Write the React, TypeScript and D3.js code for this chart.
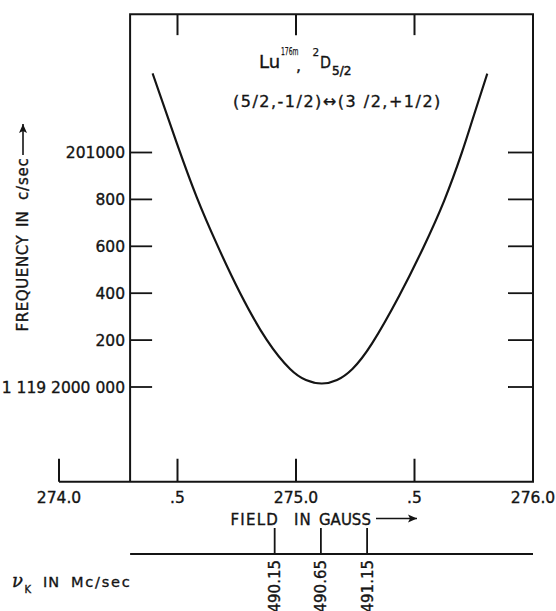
import React from "react";
import * as d3 from "d3";

const fieldTicks = [274.0, 274.5, 275.0, 275.5, 276.0];
const fieldTickLabels = ["274.0", ".5", "275.0", ".5", "276.0"];
const freqTicks = [0, 200, 400, 600, 800, 1000];
const freqTickLabels = ["1 119 2000 000", "200", "400", "600", "800", "201000"];
const nuTicks = [490.15, 490.65, 491.15];
const nuTickLabels = ["490.15", "490.65", "491.15"];

const curveField = [274.395, 274.497, 274.581, 274.667, 274.764, 274.876, 274.975, 275.042, 275.108, 275.173, 275.238, 275.321, 275.435, 275.536, 275.625, 275.699, 275.751, 275.807];
const curveFreq = [1337, 1040, 810, 607, 401, 202, 77, 30, 15, 30, 77, 186, 388, 592, 794, 997, 1160, 1336];

const W = 556;
const H = 611;
const INK = "#141414";
const FONT = "'DejaVu Sans', Verdana, sans-serif";

export default function App() {
  const x = d3.scaleLinear().domain([274, 276]).range([59, 533]);
  const y = d3.scaleLinear().domain([0, 1000]).range([387, 152.5]);
  const nuToField = d3.scaleLinear().domain([490.15, 491.15]).range([274.91, 275.3]);

  const left = x(274.3);
  const right = x(276);
  const top = y(1590);
  const bottom = y(-404);
  const nuY = 554;

  const pts = curveField.map((f, i) => [f, curveFreq[i]] as [number, number]);
  const line = d3
    .line<[number, number]>()
    .x((d) => x(d[0]))
    .y((d) => y(d[1]))
    .curve(d3.curveNatural);

  const topTicks = fieldTicks.filter((t) => t > 274.3 && t < 276);
  const bottomTicks = fieldTicks.filter((t) => t < 276);

  const txt = { fill: INK, stroke: INK, strokeWidth: 0.35 };

  return (
    <svg
      width={W}
      height={H}
      viewBox={`0 0 ${W} ${H}`}
      style={{ position: "absolute", left: 0, top: 0, background: "#fff" }}
      fontFamily={FONT}
    >
      <rect x={0} y={0} width={W} height={H} fill="#fff" />
      {/* frame */}
      <path
        d={`M${x(274)},${bottom} L${right},${bottom} L${right},${top} L${left},${top} L${left},${bottom}`}
        fill="none"
        stroke={INK}
        strokeWidth={2}
      />
      {topTicks.map((t) => (
        <line key={"tt" + t} x1={x(t)} x2={x(t)} y1={top} y2={top + 21} stroke={INK} strokeWidth={2} />
      ))}
      {bottomTicks.map((t) => (
        <line key={"bt" + t} x1={x(t)} x2={x(t)} y1={bottom} y2={bottom - 23} stroke={INK} strokeWidth={2} />
      ))}
      {fieldTicks.map((t, i) => (
        <text key={"xl" + t} x={x(t)} y={503} textAnchor="middle" fontSize={15.5} {...txt}>
          {fieldTickLabels[i]}
        </text>
      ))}
      {freqTicks.map((v, i) => (
        <g key={"yt" + v}>
          <line x1={left} x2={left + 22} y1={y(v)} y2={y(v)} stroke={INK} strokeWidth={1.8} />
          <line x1={right - 25} x2={right} y1={y(v)} y2={y(v)} stroke={INK} strokeWidth={1.8} />
          <text
            x={125}
            y={y(v) + 5.8}
            textAnchor="end"
            fontSize={15.5}
            {...txt}
            style={{ whiteSpace: "pre" }}
          >
            {freqTickLabels[i]}
          </text>
        </g>
      ))}
      <path d={line(pts) || ""} fill="none" stroke={INK} strokeWidth={2.2} />

      {/* y axis title */}
      <g transform="translate(28,0) rotate(-90)">
        <text x={-331.5} y={0} fontSize={15} {...txt} letterSpacing={0.6}>FREQUENCY</text>
        <text x={-227} y={0} fontSize={15} {...txt}>IN</text>
        <text x={-200} y={0} fontSize={15} {...txt} letterSpacing={0.8}>c/sec</text>
        <line x1={-155} x2={-124} y1={-5} y2={-5} stroke={INK} strokeWidth={1.6} />
        <path d="M-124,-5 L-133,-9 L-131,-5 L-133,-1 Z" fill={INK} />
      </g>

      {/* x axis title */}
      <text x={230.5} y={524.5} fontSize={15} {...txt} letterSpacing={1.2}>FIELD</text>
      <text x={294} y={524.5} fontSize={15} {...txt} letterSpacing={1}>IN</text>
      <text x={319} y={524.5} fontSize={15} {...txt} letterSpacing={0}>GAUSS</text>
      <line x1={376} x2={417} y1={518.5} y2={518.5} stroke={INK} strokeWidth={1.6} />
      <path d="M417,518.5 L408,514.5 L410,518.5 L408,522.5 Z" fill={INK} />

      {/* title */}
      <text x={259} y={68} fontSize={18} {...txt}>Lu</text>
      <text x={281} y={55} fontSize={10.5} {...txt} strokeWidth={0.25} textLength={17.5} lengthAdjust="spacingAndGlyphs">176m</text>
      <text x={296} y={71} fontSize={16} {...txt}>,</text>
      <text x={312.5} y={55.5} fontSize={10.5} {...txt} strokeWidth={0.25}>2</text>
      <text x={320} y={68} fontSize={16.5} {...txt} textLength={11} lengthAdjust="spacingAndGlyphs">D</text>
      <text x={332} y={75} fontSize={12} {...txt} strokeWidth={0.5}>5/2</text>
      <text x={233} y={107} fontSize={16} {...txt} letterSpacing={1.5} style={{ whiteSpace: "pre" }}>
        (5/2,-1/2)↔(3 /2,+1/2)
      </text>

      {/* nu_K axis */}
      <line x1={left} x2={right} y1={nuY} y2={nuY} stroke={INK} strokeWidth={1.8} />
      {nuTicks.map((n, i) => {
        const px = x(nuToField(n));
        return (
          <g key={"nu" + n}>
            <line x1={px} x2={px} y1={nuY} y2={nuY - 26} stroke={INK} strokeWidth={1.8} />
            <text
              transform={`translate(${px + 5.5},${nuY + 6}) rotate(-90)`}
              textAnchor="end"
              fontSize={15}
              {...txt}
            >
              {nuTickLabels[i]}
            </text>
          </g>
        );
      })}
      <text x={12} y={587} fontSize={18} fontStyle="italic" fontFamily="'DejaVu Serif', serif" {...txt}>ν</text>
      <text x={24.5} y={593} fontSize={10} {...txt}>K</text>
      <text x={43} y={587} fontSize={14.5} {...txt} letterSpacing={1}>IN</text>
      <text x={71} y={587} fontSize={14.5} {...txt} letterSpacing={1.8}>Mc/sec</text>
    </svg>
  );
}
